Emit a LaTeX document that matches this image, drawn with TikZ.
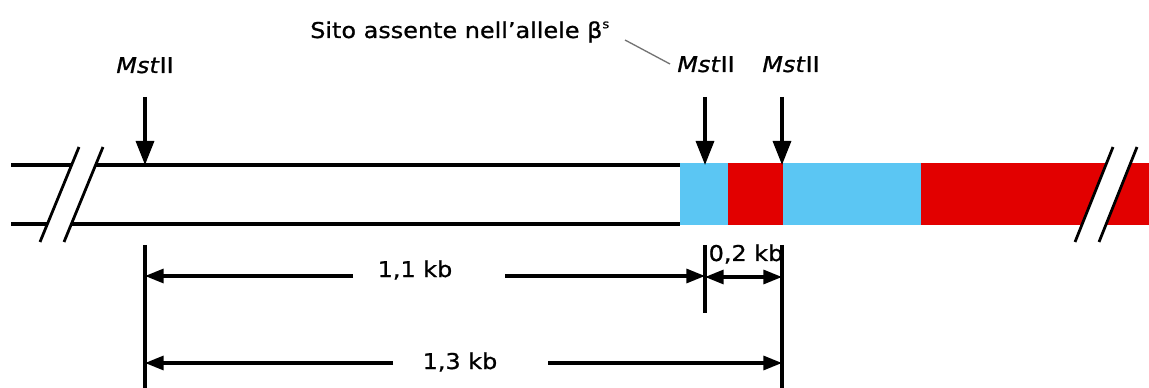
\documentclass[tikz,border=0pt]{standalone}
\usepackage{fontspec}
\setmainfont[FakeStretch=1.1,FakeBold=0.9]{DejaVu Sans}
\usetikzlibrary{arrows.meta}
\definecolor{cy}{HTML}{5BC6F3}
\definecolor{rd}{HTML}{E20000}
\begin{document}
\begin{tikzpicture}[x=0.75pt,y=-0.75pt,
  lbl/.style={font=\fontsize{16.3}{19}\selectfont, inner sep=0pt},
  bandline/.style={line width=2.3pt},
  cut/.style={line width=2.4pt, -{Triangle[length=18pt,width=13.5pt]}},
  dim/.style={line width=2.4pt, -{Triangle[length=14pt,width=10.5pt]}},
  tick/.style={line width=2.6pt},
  slash/.style={line width=2.1pt},
  leader/.style={draw=black!55, line width=1pt},
]
\useasboundingbox (0,0) rectangle (1149,388);
% coloured band
\fill[cy] (680,163.5) rectangle (728,225.5);
\fill[rd] (728,163.5) rectangle (783,225.5);
\fill[cy] (783,163.5) rectangle (921,225.5);
\fill[rd] (921,163.5) rectangle (1149,225.5);
% plain part of the band
\draw[bandline] (11,165) -- (680,165);
\draw[bandline] (11,224) -- (680,224);
% breaks
\fill[white] (40,242) -- (79,147) -- (103,147) -- (64,242) -- cycle;
\draw[slash] (40,242) -- (79,147);
\draw[slash] (64,242) -- (103,147);
\fill[white] (1075,242) -- (1113,147) -- (1137,147) -- (1099,242) -- cycle;
\draw[slash] (1075,242) -- (1113,147);
\draw[slash] (1099,242) -- (1137,147);
% labels
\node[lbl, anchor=base] (m1) at (145,73) {\textit{Mst}II};
\node[lbl, anchor=base] (m2) at (706,72) {\textit{Mst}II};
\node[lbl, anchor=base] (m3) at (791,72) {\textit{Mst}II};
\node[lbl, anchor=base west] (sito) at (310,38) {Sito assente nell'allele β\raisebox{0.45em}{\fontsize{9}{10}\selectfont s}};
\coordinate (ls) at (625,40);
\coordinate (le) at (670,64);
\draw[leader] (ls) -- (le);
% cut arrows
\coordinate (a1t) at (145,97);  \coordinate (a1b) at (145,165);
\coordinate (a2t) at (705,97);  \coordinate (a2b) at (705,165);
\coordinate (a3t) at (782,97);  \coordinate (a3b) at (782,165);
\draw[cut] (a1t) -- (a1b);
\draw[cut] (a2t) -- (a2b);
\draw[cut] (a3t) -- (a3b);
% ticks
\coordinate (t1t) at (145,245); \coordinate (t1b) at (145,388);
\coordinate (t2t) at (705,245); \coordinate (t2b) at (705,313);
\coordinate (t3t) at (782,245); \coordinate (t3b) at (782,388);
\draw[tick] (t1t) -- (t1b);
\draw[tick] (t2t) -- (t2b);
\draw[tick] (t3t) -- (t3b);
% 1,1 kb
\node[lbl, anchor=base] (k11) at (415,277) {1,1 kb};
\coordinate (d1l) at (145,276); \coordinate (d1a) at (353,276);
\coordinate (d1b) at (505,276); \coordinate (d1r) at (705,276);
\draw[dim] (d1a) -- (d1l);
\draw[dim] (d1b) -- (d1r);
% 0,2 kb
\node[lbl, anchor=base] (k02) at (746,261) {0,2 kb};
\coordinate (d2l) at (705,277); \coordinate (d2r) at (782,277);
\draw[dim, {Triangle[length=14pt,width=10.5pt]}-{Triangle[length=14pt,width=10.5pt]}] (d2l) -- (d2r);
% 1,3 kb
\node[lbl, anchor=base] (k13) at (460,369) {1,3 kb};
\coordinate (d3l) at (145,363); \coordinate (d3a) at (393,363);
\coordinate (d3b) at (548,363); \coordinate (d3r) at (782,363);
\draw[dim] (d3a) -- (d3l);
\draw[dim] (d3b) -- (d3r);
\end{tikzpicture}
\end{document}
